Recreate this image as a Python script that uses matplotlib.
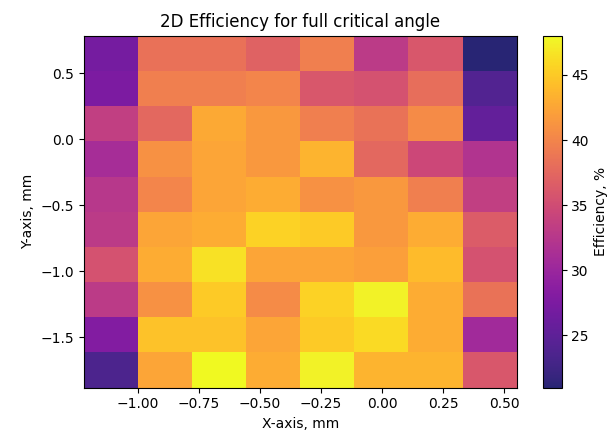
import matplotlib
matplotlib.use("Agg")
import matplotlib.pyplot as plt
from matplotlib.colors import ListedColormap
import numpy as np

# cell centres (mm)
x_centers = np.array([-1.11, -0.889, -0.668, -0.446, -0.225, -0.004, 0.218, 0.44])
y_centers = np.array([0.65, 0.383, 0.117, -0.15, -0.417, -0.683, -0.95, -1.217, -1.483, -1.75])

# efficiency, % (rows top -> bottom, columns left -> right)
efficiency = np.array([
    [27.0, 38.3, 38.3, 37.0, 39.5, 33.0, 36.0, 21.0],
    [27.5, 39.5, 39.5, 40.0, 36.0, 35.5, 38.0, 24.0],
    [33.5, 37.5, 42.8, 41.5, 39.5, 38.5, 40.5, 25.5],
    [31.0, 41.0, 42.5, 41.5, 43.5, 37.5, 34.5, 32.0],
    [32.5, 40.0, 42.5, 43.0, 41.0, 41.5, 39.5, 33.5],
    [33.0, 42.5, 43.0, 45.5, 45.0, 41.5, 43.0, 36.5],
    [35.5, 43.0, 46.5, 42.5, 42.5, 42.0, 44.0, 35.5],
    [33.0, 41.0, 45.0, 40.5, 45.5, 47.5, 43.0, 38.5],
    [28.0, 44.5, 44.5, 42.5, 45.0, 46.0, 43.0, 30.5],
    [23.5, 42.5, 48.0, 43.0, 47.5, 43.5, 43.5, 36.0],
])

# plasma, with the dark end washed out like the reference render
t = np.linspace(0, 1, 256)[:, None]
base = plt.get_cmap("plasma")(t[:, 0])
rgb = base[:, :3]
mean = rgb.mean(axis=1, keepdims=True)
ramp = np.clip(t / 0.5, 0, 1)
strength = 0.62 + 0.38 * ramp
rgb = mean + strength * (rgb - mean) + 0.05 * (1 - ramp)
base[:, :3] = np.clip(rgb, 0, 1)
cmap = ListedColormap(base)

fig = plt.figure(figsize=(6.13, 4.36), dpi=100)
ax = fig.add_axes([0.137, 0.111, 0.706, 0.807])
cax = fig.add_axes([0.886, 0.111, 0.030, 0.807])

mesh = ax.pcolormesh(x_centers, y_centers, efficiency, cmap=cmap, shading="nearest")
ax.set_xticks([-1.0, -0.75, -0.5, -0.25, 0.0, 0.25, 0.5])
ax.set_xticklabels(["\u22121.00", "\u22120.75", "\u22120.50", "\u22120.25", "0.00", "0.25", "0.50"])
ax.set_yticks([-1.5, -1.0, -0.5, 0.0, 0.5])
ax.set_xlabel("X-axis, mm")
ax.set_ylabel("Y-axis, mm")
ax.set_title("2D Efficiency for full critical angle")

cbar = fig.colorbar(mesh, cax=cax)
cbar.set_ticks([25, 30, 35, 40, 45])
cbar.set_label("Efficiency, %")

fig.savefig("out.png", dpi=100, facecolor="white")
